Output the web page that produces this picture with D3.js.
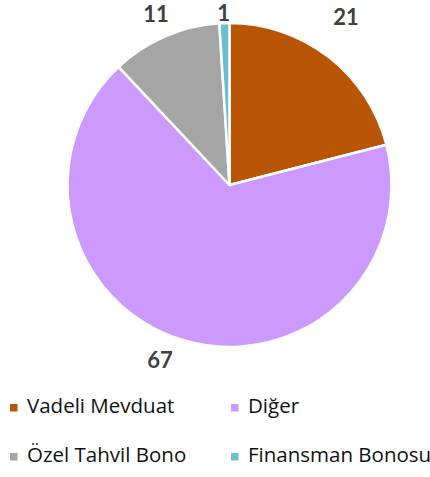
<!DOCTYPE html>
<html>
<head>
<meta charset="utf-8">
<script src="https://cdn.jsdelivr.net/npm/d3@7"></script>
<style>
  html, body { margin: 0; padding: 0; background: #fff; }
  svg { display: block; }
</style>
</head>
<body>
<div class="displayArea"></div>
<script>
// data
var categories = ["Vadeli Mevduat", "Diğer", "Özel Tahvil Bono", "Finansman Bonosu"];
var values = [21, 67, 11, 1];
var colors = ["#B95606", "#CC99FF", "#A5A5A5", "#6CBED3"];
var legendOrder = [0, 1, 2, 3]; // 2 columns, row by row

var width = 430,
    height = 477,
    cx = 229.5, cy = 185, radius = 162,
    labelRadius = 190;

// small nudges so labels sit where excel put them
var labelNudge = [[0, -18], [-16.5, -7.5], [2, 3], [0, 18]];

var svg = d3.select(".displayArea")
    .append("svg")
    .attr("width", width)
    .attr("height", height);

var pie = d3.pie()
    .sort(null)
    .value(function (d) { return d; });

var arcs = pie(values);

var arc = d3.arc()
    .innerRadius(0)
    .outerRadius(radius);

var labelArc = d3.arc()
    .innerRadius(labelRadius)
    .outerRadius(labelRadius);

var g = svg.append("g")
    .attr("transform", `translate(${cx},${cy})`);

g.selectAll("path")
    .data(arcs)
    .enter()
    .append("path")
    .attr("d", arc)
    .attr("fill", function (d, i) { return colors[i]; })
    .attr("stroke", "#fff")
    .attr("stroke-width", 2.5)
    .attr("stroke-linejoin", "round");

g.selectAll("text.lbl")
    .data(arcs)
    .enter()
    .append("text")
    .attr("class", "lbl")
    .attr("x", function (d, i) { return labelArc.centroid(d)[0] + labelNudge[i][0]; })
    .attr("y", function (d, i) { return labelArc.centroid(d)[1] + labelNudge[i][1]; })
    .attr("dy", "0.36em")
    .attr("text-anchor", "middle")
    .attr("font-family", "Lato, 'Open Sans', sans-serif")
    .attr("font-weight", "bold")
    .attr("font-size", 22)
    .attr("fill", "#404040")
    .text(function (d) { return d.data; });

// legend
var legend = svg.append("g")
    .selectAll("g")
    .data(legendOrder)
    .enter()
    .append("g")
    .attr("transform", function (d, i) {
        var col = i % 2, row = Math.floor(i / 2);
        return `translate(${10 + col * 221},${404 + row * 49})`;
    });

legend.append("rect")
    .attr("width", 7.5)
    .attr("height", 7.5)
    .attr("fill", function (d) { return colors[d]; });

legend.append("text")
    .attr("x", 17)
    .attr("y", 9)
    .attr("font-family", "'Open Sans', sans-serif")
    .attr("font-size", 20.5)
    .attr("fill", "#111")
    .text(function (d) { return categories[d]; });
</script>
</body>
</html>
